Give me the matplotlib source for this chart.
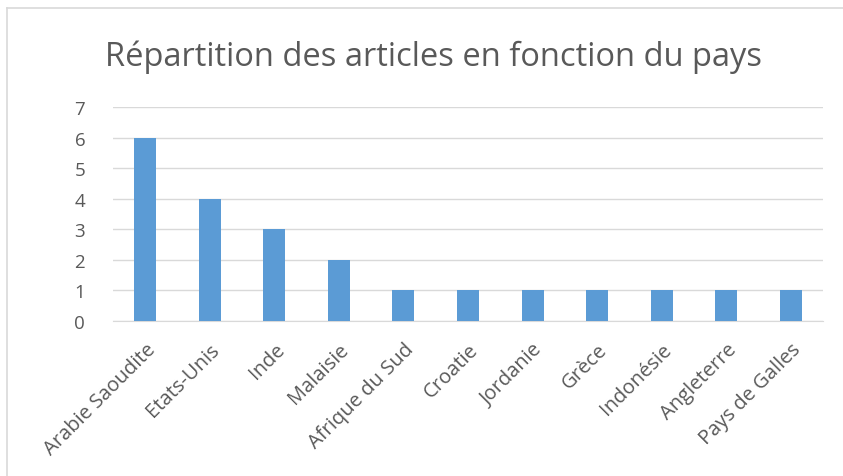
import matplotlib.pyplot as plt
from matplotlib.lines import Line2D

pays = ["Arabie Saoudite", "Etats-Unis", "Inde", "Malaisie", "Afrique du Sud",
        "Croatie", "Jordanie", "Grèce", "Indonésie", "Angleterre", "Pays de Galles"]
articles = [6, 4, 3, 2, 1, 1, 1, 1, 1, 1, 1]
y_ticks = [0, 1, 2, 3, 4, 5, 6, 7]

text_color = "#595959"
grid_color = "#D9D9D9"
bar_color = "#5B9BD5"

plt.rcParams["font.family"] = ["Open Sans", "DejaVu Sans"]

fig = plt.figure(figsize=(8.43, 4.77), dpi=100)
ax = fig.add_axes([113 / 843, 1 - 322 / 477, 710 / 843, 214 / 477])

x = range(len(pays))
ax.bar(x, articles, width=0.34, color=bar_color, zorder=3)
ax.set_xlim(-0.5, len(pays) - 0.5)
ax.set_ylim(0, 7)
ax.set_yticks(y_ticks)
ax.set_xticks(list(x))
ax.set_xticklabels(pays, rotation=45, ha="right", rotation_mode="anchor")
ax.grid(axis="y", color=grid_color, linewidth=1, zorder=0)
for side in ["top", "right", "left"]:
    ax.spines[side].set_visible(False)
ax.spines["bottom"].set_color(grid_color)
ax.tick_params(axis="both", length=0, colors=text_color)
ax.tick_params(axis="x", labelsize=14.5, pad=13)
ax.tick_params(axis="y", labelsize=13.5, pad=20)

fig.text(0.514, 0.879, "Répartition des articles en fonction du pays",
         ha="center", va="center", fontsize=23.5, color=text_color)

# chart-area border (only top and left edges visible)
fig.add_artist(Line2D([7 / 843, 1], [1 - 9 / 477, 1 - 9 / 477], color=grid_color, lw=1.2))
fig.add_artist(Line2D([7 / 843, 7 / 843], [0, 1 - 9 / 477], color=grid_color, lw=1.2))

fig.savefig("out.png", dpi=100)
